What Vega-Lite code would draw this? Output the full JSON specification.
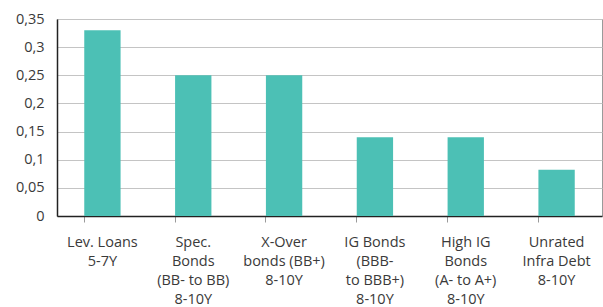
{
  "$schema": "https://vega.github.io/schema/vega-lite/v6.json",
  "width": 545,
  "height": 197,
  "autosize": {"type": "none"},
  "padding": {"left": 57, "top": 19, "right": 1, "bottom": 91},
  "background": "white",
  "config": {
    "view": {"stroke": "#9a9a9a", "strokeWidth": 1},
    "font": "Open Sans"
  },
  "data": {
    "values": [
      {"cat": "Lev. Loans\n5-7Y", "value": 0.33},
      {"cat": "Spec.\nBonds\n(BB- to BB)\n8-10Y", "value": 0.25},
      {"cat": "X-Over\nbonds (BB+)\n8-10Y", "value": 0.25},
      {"cat": "IG Bonds\n(BBB-\nto BBB+)\n8-10Y", "value": 0.14},
      {"cat": "High IG\nBonds\n(A- to A+)\n8-10Y", "value": 0.14},
      {"cat": "Unrated\nInfra Debt\n8-10Y", "value": 0.082}
    ]
  },
  "mark": {"type": "bar", "color": "#4CC0B5"},
  "encoding": {
    "x": {
      "field": "cat",
      "type": "nominal",
      "sort": null,
      "scale": {"paddingInner": 0.6, "paddingOuter": 0.3},
      "axis": {
        "title": null,
        "labelAngle": 0,
        "labelExpr": "split(datum.label, '\\n')",
        "labelFontSize": 14.5,
        "labelColor": "#3a3a3a",
        "labelLineHeight": 19,
        "labelPadding": 13,
        "labelAlign": "center",
        "labelBaseline": "top",
        "bandPosition": 0,
        "tickColor": "#9a9a9a",
        "tickSize": 6,
        "domainColor": "#222222",
        "domainWidth": 1.5,
        "grid": false
      }
    },
    "y": {
      "field": "value",
      "type": "quantitative",
      "scale": {"domain": [0, 0.35], "nice": false},
      "axis": {
        "title": null,
        "values": [0, 0.05, 0.1, 0.15, 0.2, 0.25, 0.3, 0.35],
        "labelExpr": "replace(format(datum.value, '.2~f'), '.', ',')",
        "labelFontSize": 14.5,
        "labelColor": "#3a3a3a",
        "labelPadding": 13,
        "ticks": false,
        "grid": true,
        "gridColor": "#c4c4c4",
        "gridWidth": 1,
        "domainColor": "#222222",
        "domainWidth": 1.5
      }
    }
  }
}
